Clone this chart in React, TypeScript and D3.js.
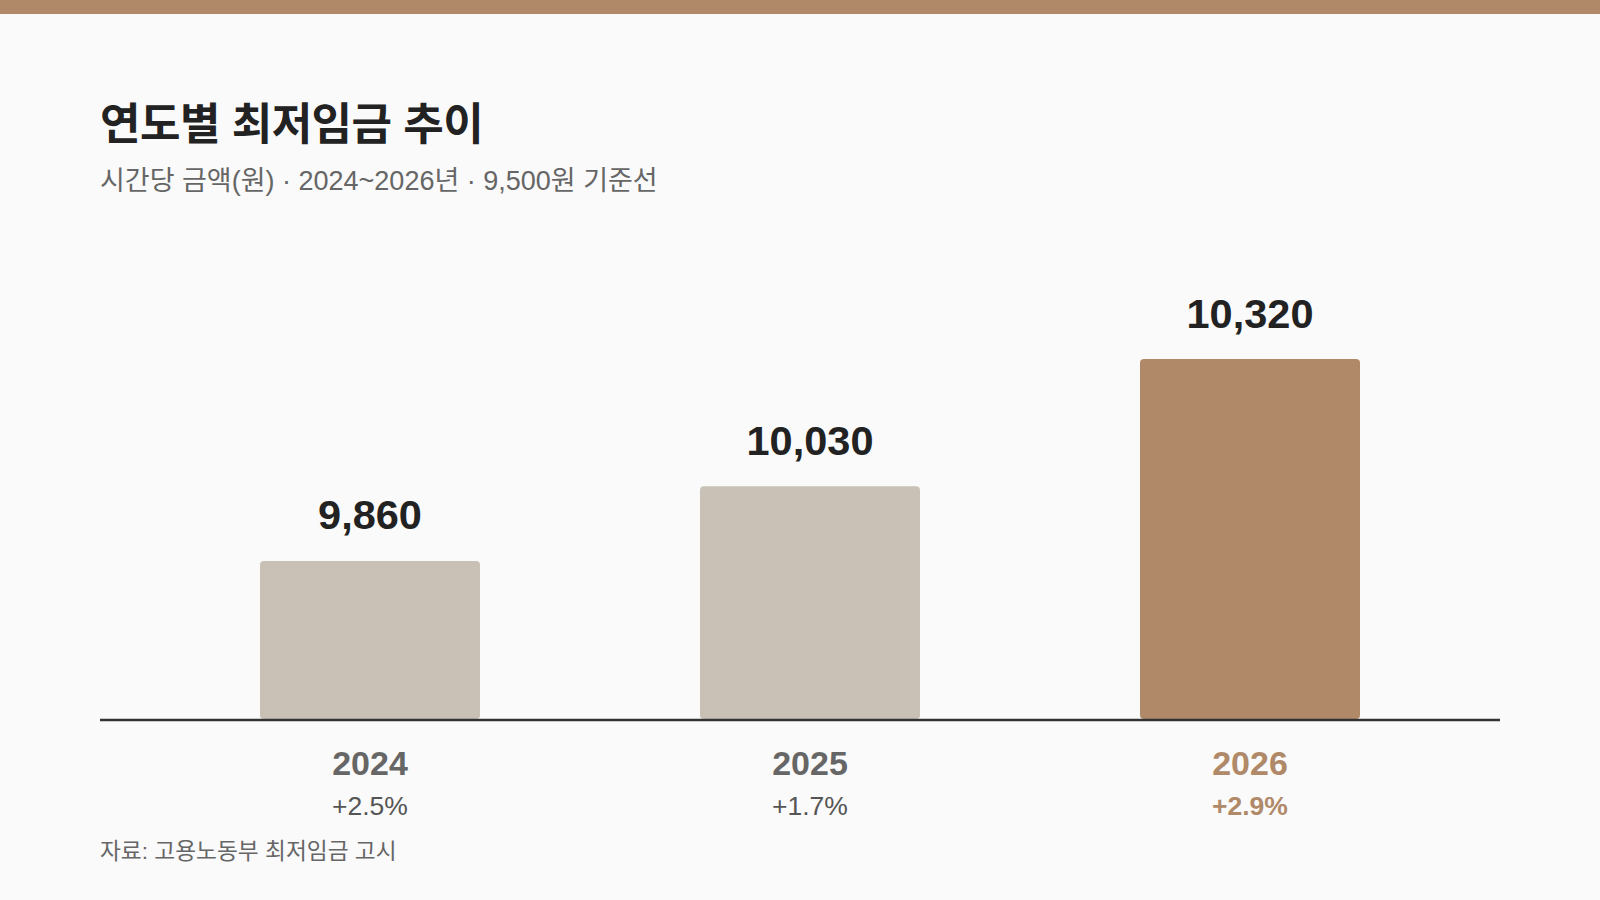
import React, { useEffect } from "react";
import * as d3 from "d3";

// Hourly minimum wage (KRW) by year
const years = ["2024", "2025", "2026"];
const wages = [9860, 10030, 10320];
const growth = [2.5, 1.7, 2.9];
const baseline = 9500;
const highlightYear = "2026";

const W = 1600;
const H = 900;
const ACCENT = "#b08968";
const MUTED = "#c9c1b6";
const BG = "#fafafa";
const FONT = "'Liberation Sans', 'Noto Sans CJK KR', sans-serif";

export default function App() {
  useEffect(() => {
    document.body.style.margin = "0";
    document.body.style.background = BG;
  }, []);

  const x = d3
    .scaleBand<string>()
    .domain(years)
    .range([150, 1470])
    .paddingInner(0.5)
    .paddingOuter(0.25);

  const axisY = 719;
  const y = d3.scaleLinear().domain([baseline, 10500]).range([axisY, 280]);

  const fmt = d3.format(",");
  const rows = years.map((yr, i) => ({ yr, v: wages[i], g: growth[i] }));

  return (
    <svg width={W} height={H} style={{ display: "block", background: BG, fontFamily: FONT }}>
      <rect x={0} y={0} width={W} height={14} fill={ACCENT} />

      <text x={100} y={140} fontSize={44} fontWeight={700} fill="#222" letterSpacing={-0.5}>
        연도별 최저임금 추이
      </text>
      <text x={100} y={190} fontSize={27} fill="#666">
        시간당 금액(원) · 2024~2026년 · 9,500원 기준선
      </text>

      {rows.map((d) => {
        const hl = d.yr === highlightYear;
        const bx = x(d.yr)!;
        const cx = bx + x.bandwidth() / 2;
        const top = y(d.v);
        return (
          <g key={d.yr}>
            <rect
              x={bx}
              y={top}
              width={x.bandwidth()}
              height={axisY - top}
              rx={4}
              fill={hl ? ACCENT : MUTED}
            />
            <text
              x={cx}
              y={top - 31.5}
              textAnchor="middle"
              fontSize={41.5}
              fontWeight={700}
              fill="#222"
            >
              {fmt(d.v)}
            </text>
            <text
              x={cx}
              y={775}
              textAnchor="middle"
              fontSize={34}
              fontWeight={700}
              fill={hl ? ACCENT : "#666"}
            >
              {d.yr}
            </text>
            <text
              x={cx}
              y={815}
              textAnchor="middle"
              fontSize={26.5}
              fontWeight={hl ? 700 : 400}
              fill={hl ? ACCENT : "#555"}
            >
              {`+${d.g.toFixed(1)}%`}
            </text>
          </g>
        );
      })}

      <line x1={100} x2={1500} y1={axisY + 1} y2={axisY + 1} stroke="#333" strokeWidth={2.5} />

      <text x={100} y={859} fontSize={22.7} fill="#666">
        자료: 고용노동부 최저임금 고시
      </text>
    </svg>
  );
}
